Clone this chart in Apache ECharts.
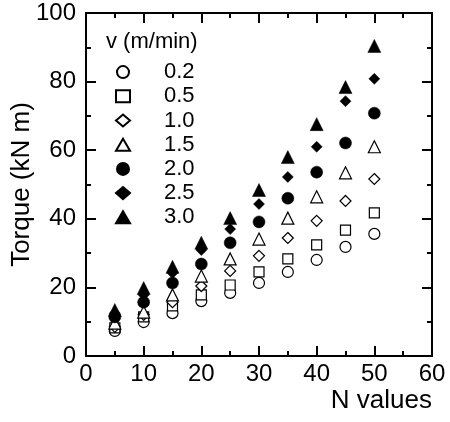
<!DOCTYPE html>
<html>
<head>
<meta charset="utf-8">
<script src="https://cdn.jsdelivr.net/npm/echarts@6/dist/echarts.min.js"></script>
<style>
  html, body { margin: 0; padding: 0; background: #fff; }
  #chart { width: 450px; height: 422px; }
</style>
</head>
<body>
<div id="chart"></div>
<script>
// Torque versus N for each cutting speed v (m/min)
const nValues = [5, 10, 15, 20, 25, 30, 35, 40, 45, 50];
const speedLabels = ['0.2', '0.5', '1.0', '1.5', '2.0', '2.5', '3.0'];
const torqueV02 = [7.3, 9.9, 12.5, 16.0, 18.4, 21.3, 24.5, 28.0, 31.8, 35.6];
const torqueV05 = [8.2, 11.4, 14.6, 17.8, 20.7, 24.5, 28.3, 32.4, 36.7, 41.7];
const torqueV10 = [8.5, 12.0, 15.7, 20.4, 24.8, 29.2, 34.4, 39.4, 45.2, 51.6];
const torqueV15 = [9.6, 12.8, 17.8, 23.3, 28.3, 34.1, 40.2, 46.4, 53.4, 61.0];
const torqueV20 = [11.4, 15.7, 21.3, 26.8, 33.0, 39.1, 46.0, 53.6, 62.1, 70.8];
const torqueV25 = [12.5, 17.8, 24.2, 30.9, 37.0, 44.3, 52.2, 61.0, 74.3, 80.8];
const torqueV30 = [13.4, 19.8, 26.0, 33.0, 40.2, 48.4, 58.0, 67.6, 78.4, 90.4];
const xTicks = [0, 10, 20, 30, 40, 50, 60];
const yTicks = [0, 20, 40, 60, 80, 100];

const FONT = '"Liberation Sans", Arial, sans-serif';
const seriesValues = [torqueV02, torqueV05, torqueV10, torqueV15, torqueV20, torqueV25, torqueV30];
const markers = [
  { symbol: 'circle',   size: 11, filled: false },
  { symbol: 'rect',     size: 10, filled: false },
  { symbol: 'diamond',  size: 11, filled: false },
  { symbol: 'triangle', size: 12, filled: false },
  { symbol: 'circle',   size: 12, filled: true },
  { symbol: 'diamond',  size: 11, filled: true },
  { symbol: 'triangle', size: 13, filled: true }
];

const series = seriesValues.map((vals, i) => ({
  name: speedLabels[i],
  type: 'scatter',
  xAxisIndex: 0,
  yAxisIndex: 0,
  symbol: markers[i].symbol,
  symbolSize: markers[i].size,
  data: nValues.map((n, k) => [n, vals[k]]),
  itemStyle: markers[i].filled
    ? { color: '#000', borderColor: '#000', borderWidth: 0.5, opacity: 1 }
    : { color: '#fff', borderColor: '#000', borderWidth: 1.2, opacity: 1 },
  emphasis: { disabled: true },
  z: 2 + i
}));

// frame pieces: every side of the box carries inward ticks
function frameParts() {
  return {
    axisLine: { show: true, onZero: false, lineStyle: { color: '#000', width: 2 } },
    axisTick: { show: true, inside: true, length: 10, lineStyle: { color: '#000', width: 2 } },
    minorTick: { show: true, splitNumber: 2, length: 5, lineStyle: { color: '#000', width: 2 } },
    splitLine: { show: false }
  };
}

const chart = echarts.init(document.getElementById('chart'), null, { renderer: 'canvas' });
chart.setOption({
  backgroundColor: '#fff',
  animation: false,
  grid: { left: 86, right: 18, top: 13, bottom: 66, containLabel: false, outerBoundsMode: 'none' },
  xAxis: [
    Object.assign({
      type: 'value', min: xTicks[0], max: xTicks[xTicks.length - 1], interval: 10,
      position: 'bottom',
      name: 'N values',
      nameLocation: 'end',
      nameGap: 0,
      nameMoveOverlap: false,
      nameTextStyle: {
        fontFamily: FONT, fontSize: 26, color: '#000',
        align: 'right', verticalAlign: 'top', padding: [32, 0, 0, 0]
      },
      axisLabel: { fontFamily: FONT, fontSize: 24, color: '#000', margin: 6 }
    }, frameParts()),
    Object.assign({
      type: 'value', min: xTicks[0], max: xTicks[xTicks.length - 1], interval: 10,
      position: 'top',
      axisLabel: { show: false }
    }, frameParts())
  ],
  yAxis: [
    Object.assign({
      type: 'value', min: yTicks[0], max: yTicks[yTicks.length - 1], interval: 20,
      position: 'left',
      name: 'Torque (kN m)',
      nameLocation: 'middle',
      nameGap: 51,
      nameMoveOverlap: false,
      nameTextStyle: { fontFamily: FONT, fontSize: 26, color: '#000' },
      axisLabel: { fontFamily: FONT, fontSize: 24, color: '#000', margin: 10 }
    }, frameParts()),
    Object.assign({
      type: 'value', min: yTicks[0], max: yTicks[yTicks.length - 1], interval: 20,
      position: 'right',
      axisLabel: { show: false }
    }, frameParts())
  ],
  legend: {
    data: speedLabels,
    orient: 'vertical',
    left: 110,
    top: 55,
    itemWidth: 14,
    itemHeight: 12,
    itemGap: 0,
    selectedMode: false,
    textStyle: { fontFamily: FONT, fontSize: 22, color: '#000', lineHeight: 24.2, padding: [0, 0, 0, 29] }
  },
  graphic: [
    {
      type: 'text',
      left: 106,
      top: 31,
      style: { text: 'v (m/min)', font: '22px ' + FONT, fill: '#000' }
    }
  ],
  series
});
</script>
</body>
</html>
